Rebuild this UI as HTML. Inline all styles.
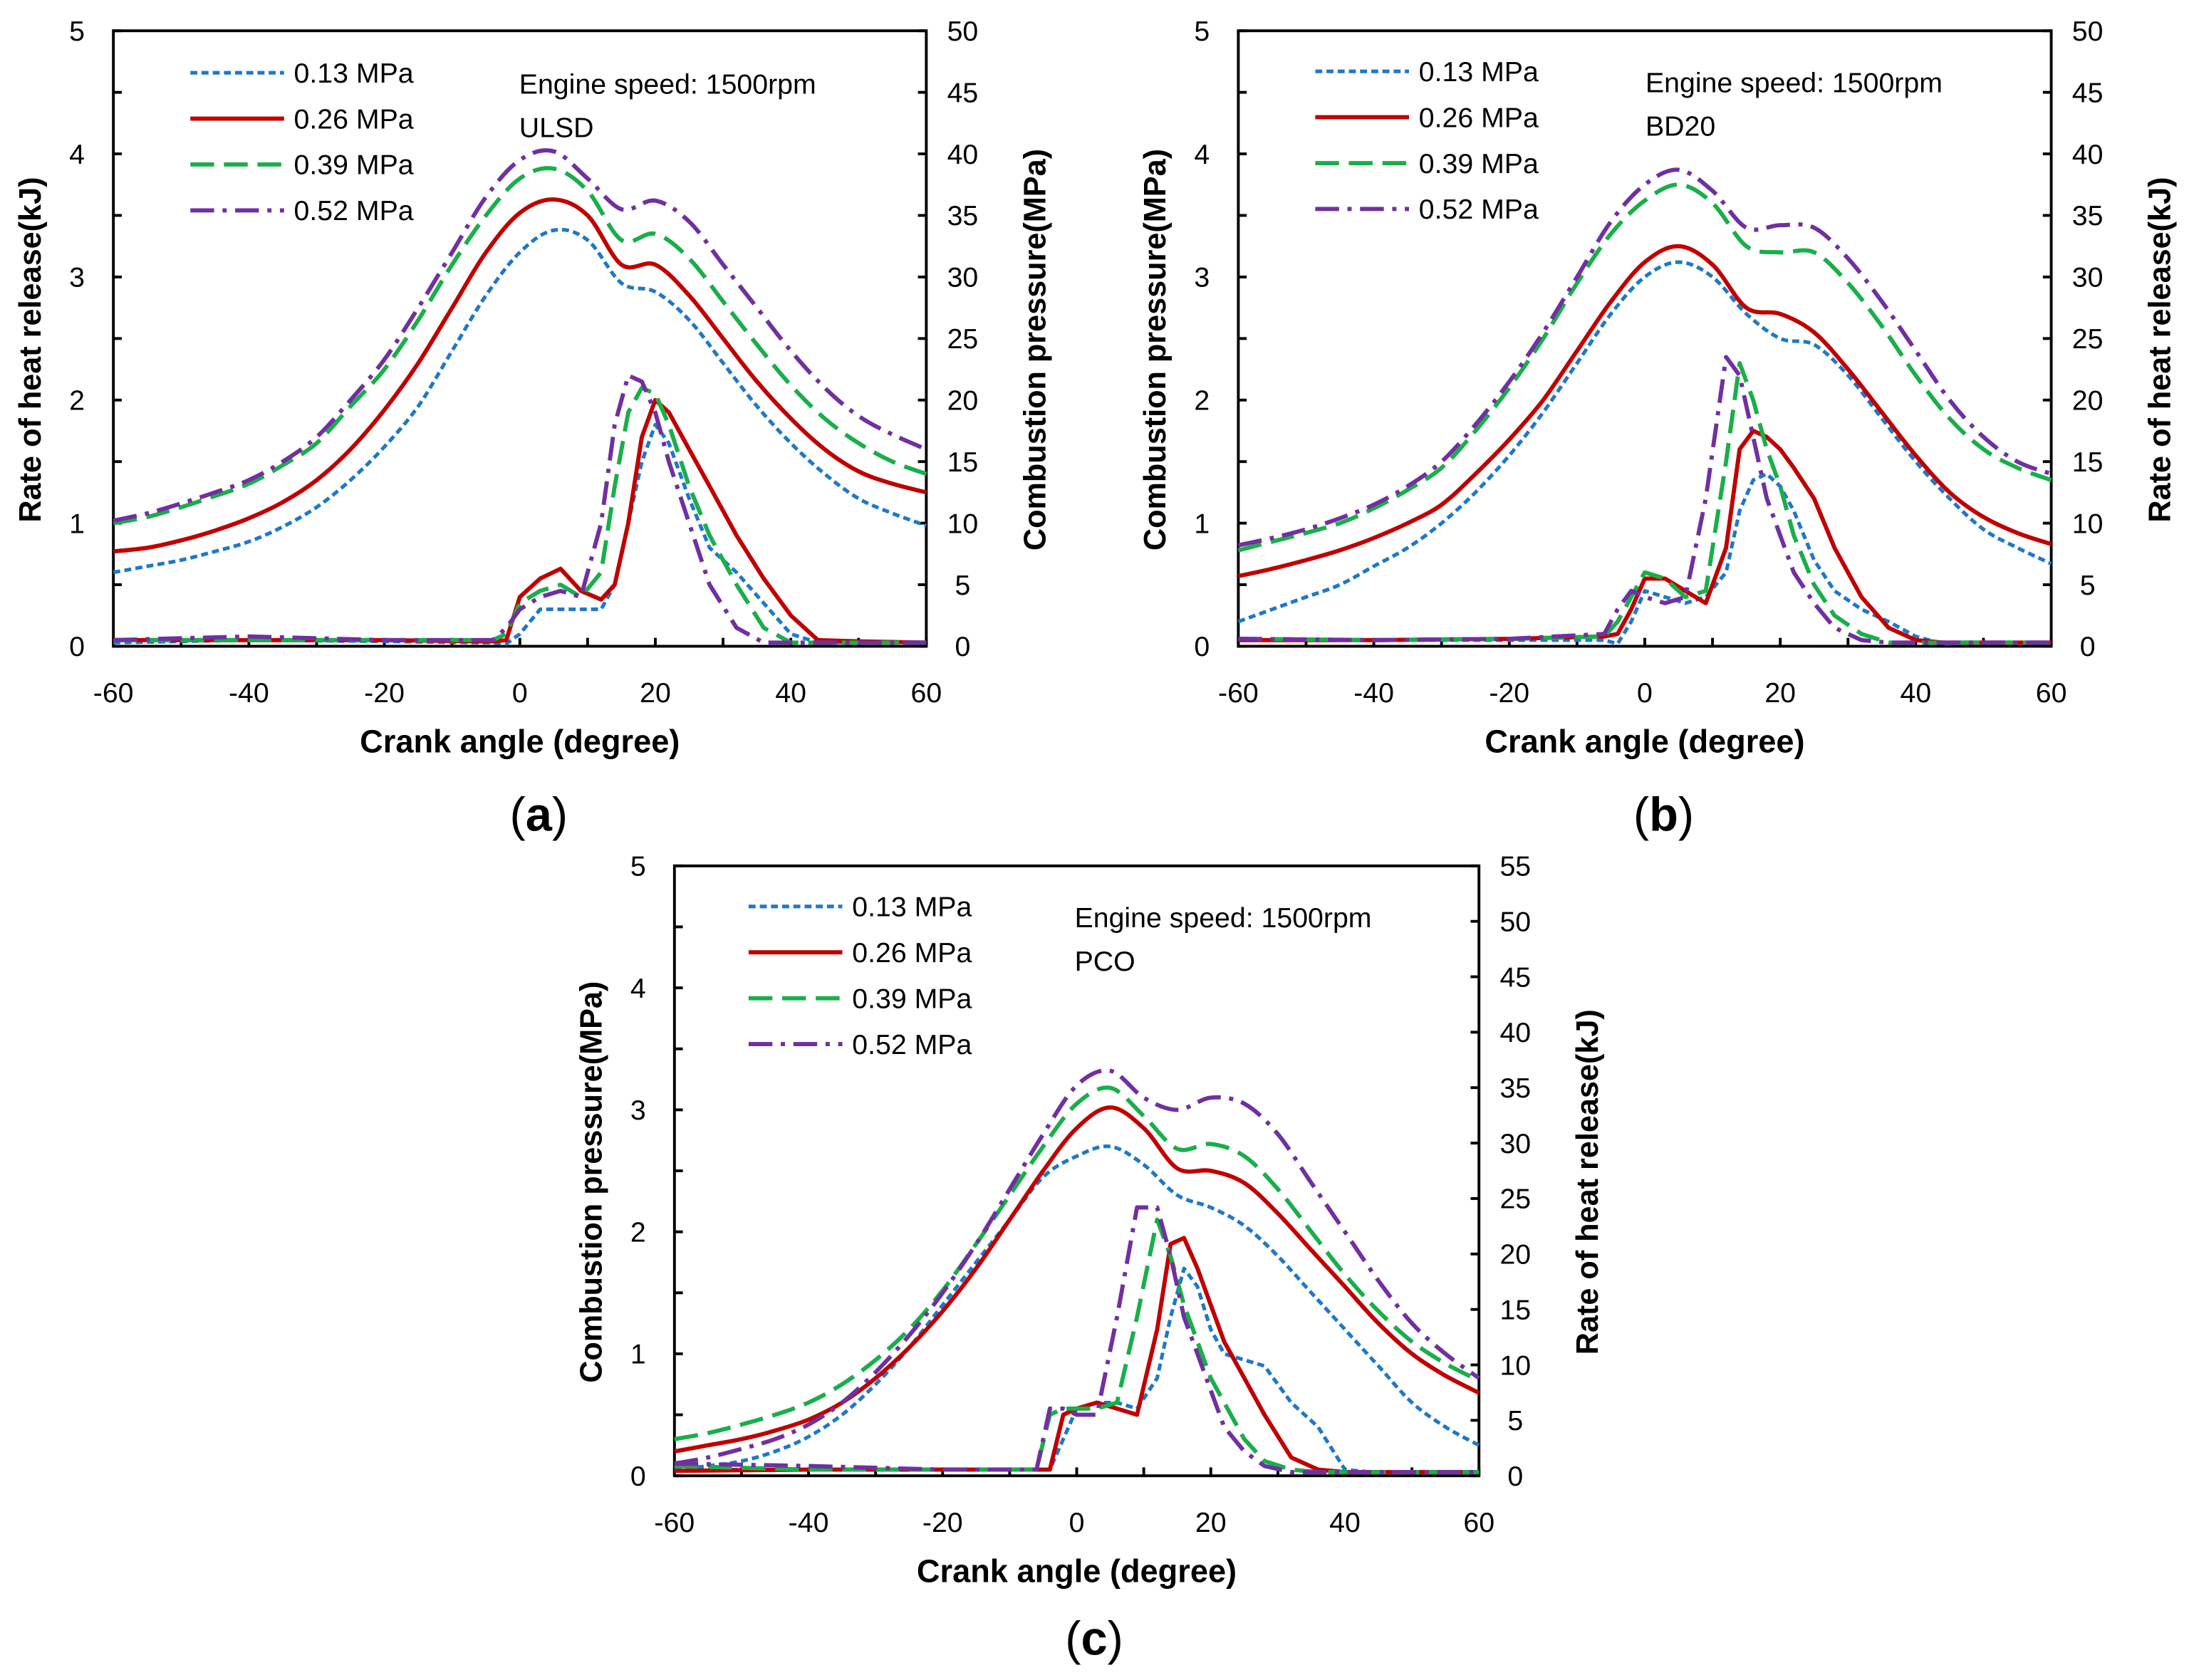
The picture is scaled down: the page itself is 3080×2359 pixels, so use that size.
<!DOCTYPE html>
<html><head><meta charset="utf-8">
<style>
html,body{margin:0;padding:0;background:#fff}
svg{display:block}
text{font-family:"Liberation Sans","DejaVu Sans",sans-serif;fill:#000}
</style></head>
<body>
<svg id="fig" xmlns="http://www.w3.org/2000/svg" width="3080" height="2359" viewBox="0 0 1568 1201"></svg>
<script>
const ANG=[-60,-55,-50,-45,-40,-35,-30,-25,-20,-15,-10,-5,0,5,10,15,20,25,30,35,40,45,50,55,60];
const LABELS=['0.13 MPa','0.26 MPa','0.39 MPa','0.52 MPa'];
const pA13=[0.6,0.65,0.7,0.77,0.85,0.97,1.13,1.35,1.62,1.95,2.4,2.85,3.2,3.38,3.3,2.95,2.88,2.65,2.3,1.95,1.65,1.4,1.2,1.08,0.98];
const pA26=[0.77,0.8,0.86,0.94,1.04,1.17,1.35,1.6,1.92,2.3,2.75,3.2,3.52,3.63,3.5,3.1,3.1,2.85,2.5,2.15,1.85,1.6,1.42,1.32,1.25];
const pA39=[1.0,1.05,1.13,1.22,1.32,1.47,1.65,1.95,2.25,2.65,3.1,3.5,3.8,3.88,3.7,3.3,3.35,3.15,2.8,2.45,2.12,1.85,1.65,1.5,1.4];
const pA52=[1.02,1.08,1.16,1.25,1.35,1.5,1.7,2.0,2.33,2.75,3.2,3.65,3.95,4.02,3.8,3.55,3.62,3.45,3.1,2.75,2.4,2.1,1.87,1.72,1.6];
const pB13=[0.2,0.3,0.4,0.5,0.65,0.8,1.0,1.25,1.55,1.9,2.3,2.7,3.0,3.12,3.0,2.7,2.5,2.45,2.2,1.85,1.5,1.2,0.95,0.8,0.67];
const pB26=[0.57,0.63,0.7,0.78,0.88,1.0,1.15,1.4,1.68,2.0,2.4,2.8,3.12,3.25,3.1,2.75,2.7,2.55,2.25,1.9,1.55,1.25,1.05,0.92,0.83];
const pB39=[0.78,0.85,0.92,1.0,1.12,1.27,1.45,1.75,2.1,2.5,2.95,3.35,3.62,3.75,3.6,3.25,3.2,3.2,2.95,2.6,2.2,1.85,1.6,1.45,1.35];
const pB52=[0.82,0.88,0.95,1.04,1.15,1.3,1.5,1.8,2.15,2.55,3.0,3.45,3.75,3.87,3.7,3.4,3.42,3.4,3.15,2.8,2.4,2.0,1.7,1.5,1.4];
const pC13=[0.05,0.08,0.12,0.2,0.32,0.5,0.75,1.05,1.4,1.75,2.1,2.45,2.62,2.7,2.55,2.3,2.2,2.05,1.8,1.5,1.2,0.9,0.6,0.4,0.25];
const pC26=[0.2,0.25,0.3,0.37,0.46,0.6,0.8,1.05,1.35,1.7,2.1,2.5,2.85,3.02,2.85,2.52,2.5,2.4,2.15,1.85,1.55,1.25,1.0,0.82,0.68];
const pC39=[0.3,0.35,0.42,0.5,0.6,0.75,0.95,1.2,1.52,1.9,2.3,2.7,3.05,3.18,2.95,2.68,2.72,2.62,2.35,2.0,1.65,1.35,1.1,0.92,0.78];
const pC52=[0.1,0.15,0.22,0.3,0.42,0.6,0.85,1.15,1.5,1.9,2.35,2.8,3.2,3.32,3.1,3.0,3.1,3.05,2.8,2.4,2.0,1.6,1.25,1.0,0.8];
const HANG=[-60,-40,-20,-6,-4,-2,0,3,6,9,12,14,16,18,20,22,25,28,32,36,40,44,50,60];
const hA13=[0.03,0.05,0.04,0.03,0.03,0.02,0.1,0.3,0.3,0.3,0.3,0.5,1.0,1.5,1.8,1.65,1.2,0.8,0.6,0.35,0.1,0.03,0.03,0.03];
const hA26=[0.05,0.05,0.05,0.04,0.04,0.05,0.4,0.55,0.63,0.45,0.38,0.5,1.0,1.7,2.0,1.9,1.6,1.3,0.9,0.55,0.25,0.05,0.04,0.03];
const hA39=[0.05,0.05,0.05,0.05,0.05,0.1,0.35,0.45,0.5,0.4,0.6,1.3,1.9,2.1,2.05,1.8,1.3,0.9,0.5,0.15,0.03,0.03,0.03,0.03];
const hA52=[0.05,0.08,0.05,0.05,0.05,0.15,0.3,0.4,0.45,0.4,1.0,1.8,2.2,2.15,1.9,1.5,1.0,0.5,0.15,0.03,0.03,0.03,0.03,0.03];
const hB13=[0.05,0.05,0.05,0.05,0.02,0.2,0.45,0.4,0.35,0.4,0.6,1.1,1.35,1.4,1.3,1.1,0.7,0.45,0.3,0.2,0.08,0.02,0.03,0.03];
const hB26=[0.05,0.05,0.06,0.08,0.1,0.3,0.55,0.55,0.45,0.35,0.8,1.6,1.75,1.7,1.6,1.45,1.2,0.8,0.4,0.15,0.05,0.03,0.03,0.03];
const hB39=[0.06,0.05,0.06,0.08,0.2,0.4,0.6,0.55,0.4,0.45,1.5,2.3,2.0,1.6,1.3,0.9,0.5,0.25,0.1,0.03,0.03,0.03,0.03,0.03];
const hB52=[0.06,0.05,0.06,0.1,0.3,0.45,0.4,0.35,0.4,1.2,2.35,2.2,1.7,1.2,0.9,0.6,0.35,0.15,0.05,0.03,0.03,0.03,0.03,0.03];
const hC13=[0.05,0.05,0.05,0.05,0.05,0.3,0.55,0.6,0.6,0.55,0.8,1.3,1.7,1.55,1.2,1.0,0.95,0.9,0.6,0.4,0.05,0.03,0.03,0.03];
const hC26=[0.04,0.05,0.05,0.05,0.05,0.5,0.55,0.6,0.55,0.5,1.2,1.9,1.95,1.7,1.4,1.1,0.8,0.5,0.15,0.05,0.03,0.03,0.03,0.03];
const hC39=[0.08,0.05,0.05,0.05,0.5,0.55,0.55,0.55,0.6,1.3,2.1,1.8,1.4,1.1,0.8,0.6,0.3,0.12,0.05,0.03,0.03,0.03,0.03,0.03];
const hC52=[0.1,0.08,0.05,0.05,0.55,0.55,0.5,0.5,1.3,2.2,2.2,1.8,1.3,1.0,0.7,0.4,0.2,0.08,0.03,0.03,0.03,0.03,0.03,0.03];
const XTICKS=[-60,-40,-20,0,20,40,60];
const LTICKS=[0,1,2,3,4,5];

const NS='http://www.w3.org/2000/svg';
const svg=document.getElementById('fig');
const STY=[
 {c:'#1f78c8',w:2.6,d:'5,3'},
 {c:'#c00000',w:3,d:''},
 {c:'#1aae4a',w:3,d:'17,7'},
 {c:'#7030a0',w:3,d:'17,6,3,6'}];
function mk(tag,attrs,parent){const e=document.createElementNS(NS,tag);for(const k in attrs)e.setAttribute(k,attrs[k]);(parent||svg).appendChild(e);return e;}
function txt(s,x,y,size,attrs,parent){const t=mk('text',Object.assign({x:x,y:y,'font-size':size},attrs||{}),parent);t.textContent=s;return t;}
function smooth(pts){
 let d='M'+pts[0][0].toFixed(1)+','+pts[0][1].toFixed(1);
 for(let i=0;i<pts.length-1;i++){
  const p0=pts[Math.max(0,i-1)],p1=pts[i],p2=pts[i+1],p3=pts[Math.min(pts.length-1,i+2)];
  const c1=[p1[0]+(p2[0]-p0[0])/6,p1[1]+(p2[1]-p0[1])/6];
  const c2=[p2[0]-(p3[0]-p1[0])/6,p2[1]-(p3[1]-p1[1])/6];
  d+='C'+c1[0].toFixed(1)+','+c1[1].toFixed(1)+' '+c2[0].toFixed(1)+','+c2[1].toFixed(1)+' '+p2[0].toFixed(1)+','+p2[1].toFixed(1);
 }
 return d;
}

function panel(o){
 const g=mk('g',{});
 
 
 const xs=v=>o.x0+(v+60)/120*(o.x1-o.x0);
 const ys=v=>o.y0-v/5*(o.y0-o.y1);
 const fr=mk('rect',{x:o.x0,y:o.y1,width:o.x1-o.x0,height:o.y0-o.y1,fill:'none',stroke:'#000','stroke-width':2},g);
 
 
 for(let v=0;v<=5;v+=0.5){const y=ys(v);mk('line',{x1:o.x0,x2:o.x0+6,y1:y,y2:y,stroke:'#000','stroke-width':2},g);}
 LTICKS.forEach(v=>{const t=txt(String(v),o.x0-26,ys(v)+7,20,{'text-anchor':'middle'},g);});
 const rmax=o.rmax;
 for(let v=0;v<=rmax;v+=5){const y=o.y0-v/rmax*(o.y0-o.y1);mk('line',{x1:o.x1-6,x2:o.x1,y1:y,y2:y,stroke:'#000','stroke-width':2},g);
  const t=txt(String(v),o.x1+26,y+7,20,{'text-anchor':'middle'},g);}
 for(let v=-60;v<=60;v+=10){mk('line',{x1:xs(v),x2:xs(v),y1:o.y0,y2:o.y0-6,stroke:'#000','stroke-width':2},g);}
 XTICKS.forEach(v=>{const t=txt(String(v),xs(v),o.y0+40,20,{'text-anchor':'middle'},g);});
 let t=txt('Crank angle (degree)',(o.x0+o.x1)/2,o.y0+76,23,{'text-anchor':'middle','font-weight':'bold'},g);
 
 const cy=(o.y0+o.y1)/2+8;
 t=txt(o.ltitle,0,0,22,{'text-anchor':'middle','font-weight':'bold',transform:`translate(${o.x0-52},${cy}) rotate(-90)`},g);
 
 t=txt(o.rtitle,0,0,22,{'text-anchor':'middle','font-weight':'bold',transform:`translate(${o.x1+85},${cy}) rotate(-90)`},g);
 
 o.p.forEach((arr,i)=>{const s=STY[i];const d=smooth(arr.map((v,k)=>[xs(ANG[k]),ys(v)]));
  const p=mk('path',{d:d,fill:'none',stroke:s.c,'stroke-width':s.w,'stroke-dasharray':s.d,'stroke-linejoin':'round'},g);
  });
 o.h.forEach((arr,i)=>{const s=STY[i];const d=arr.map((v,k)=>(k?'L':'M')+xs(HANG[k]).toFixed(1)+','+ys(v).toFixed(1)).join('');
  const p=mk('path',{d:d,fill:'none',stroke:s.c,'stroke-width':s.w,'stroke-dasharray':s.d,'stroke-linejoin':'round'},g);
  });
 LABELS.forEach((lab,i)=>{const s=STY[i];const y=o.ly+i*32.8;
  const e=mk('g',{},g);
  mk('line',{x1:o.lx,x2:o.lx+67,y1:y,y2:y,stroke:s.c,'stroke-width':s.w,'stroke-dasharray':s.d},e);
  txt(lab,o.lx+74,y+7,20,{},e);});
 t=txt('Engine speed: 1500rpm',o.ax,o.ay,20,{},g);
 t=txt(o.fuel,o.ax,o.ay+31,20,{},g);
 t=mk('text',{x:o.cx,y:o.cy,'font-size':34,'text-anchor':'middle','font-family':'"Liberation Serif",serif'},g);
 t.innerHTML='(<tspan font-weight="bold">'+o.id+'</tspan>)';
 
 svg.appendChild(g);
}
panel({id:'a',x0:81,x1:662,y0:462,y1:22,rmax:50,ltitle:'Rate of heat release(kJ)',rtitle:'Combustion  pressure(MPa)',
 p:[pA13,pA26,pA39,pA52],h:[hA13,hA26,hA39,hA52],lx:136,ly:52,ax:371,ay:67,fuel:'ULSD',cx:385,cy:594});
panel({id:'b',x0:885,x1:1466,y0:462,y1:22,rmax:50,ltitle:'Combustion  pressure(MPa)',rtitle:'Rate of heat release(kJ)',
 p:[pB13,pB26,pB39,pB52],h:[hB13,hB26,hB39,hB52],lx:940,ly:51,ax:1176,ay:66,fuel:'BD20',cx:1189,cy:594});
panel({id:'c',x0:482,x1:1057,y0:1055,y1:619,rmax:55,ltitle:'Combustion  pressure(MPa)',rtitle:'Rate of heat release(kJ)',
 p:[pC13,pC26,pC39,pC52],h:[hC13,hC26,hC39,hC52],lx:535,ly:648,ax:768,ay:663,fuel:'PCO',cx:782,cy:1183});
</script>
</body></html>
